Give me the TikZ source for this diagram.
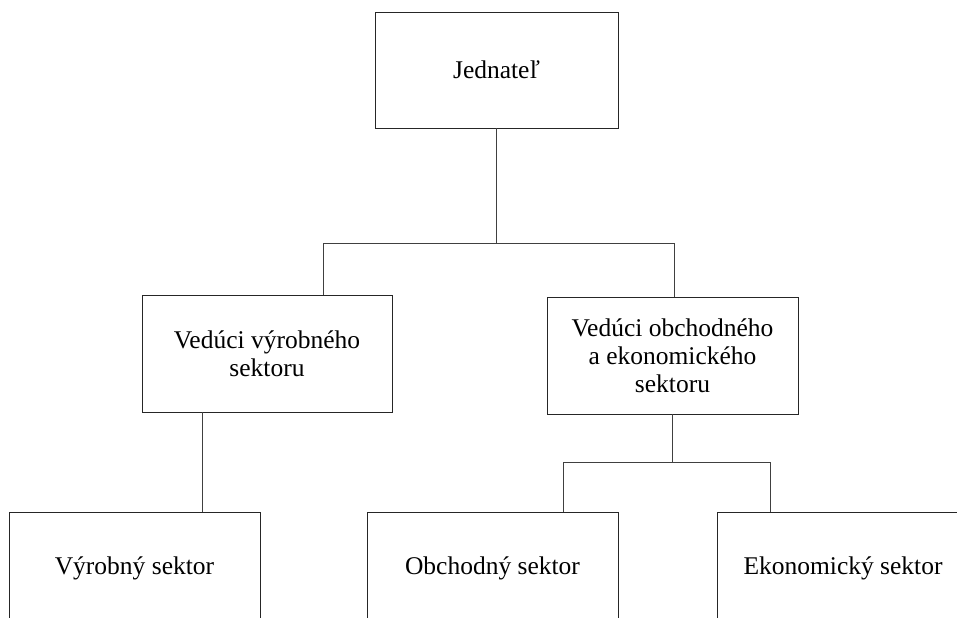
\documentclass[tikz,border=0pt]{standalone}
\usepackage{fontspec}
\setmainfont{Liberation Serif}
\begin{document}
\begin{tikzpicture}[x=1pt,y=-1pt,
  box/.style={draw=black!85,line width=0.8pt,rectangle,inner sep=0pt,align=center,
    font=\fontsize{25.5}{28}\selectfont},
  conn/.style={draw=black!75,line width=0.8pt}]
\useasboundingbox (0,0) rectangle (957,625);
\begin{scope}
\clip (0,0) rectangle (957,617);
\node[box,minimum width=243pt,minimum height=116pt] (top) at (496.5,70) {Jednateľ};
\node[box,minimum width=250pt,minimum height=117pt] (midL) at (267,353.5) {Vedúci výrobného\\sektoru};
\node[box,minimum width=251pt,minimum height=117pt] (midR) at (672.5,355.5) {Vedúci obchodného\\a ekonomického\\sektoru};
\node[box,minimum width=251pt,minimum height=112pt] (lowL) at (134.5,568) {Výrobný sektor};
\node[box,minimum width=251pt,minimum height=112pt] (lowM) at (492.5,568) {Obchodný sektor};
\node[box,minimum width=252pt,minimum height=112pt] (lowR) at (843,568) {Ekonomický sektor};
\end{scope}
\coordinate (busL) at (323,243);
\coordinate (busR) at (674,243);
\coordinate (dropL) at (202,0);
\coordinate (busA) at (563,462);
\coordinate (busB) at (770,462);
\draw[conn] (top.south) -- (top.south |- busL);
\draw[conn] (busL |- midL.north) -- (busL) -- (busR) -- (busR |- midR.north);
\draw[conn] (dropL |- midL.south) -- (dropL |- lowL.north);
\draw[conn] (midR.south) -- (midR.south |- busA);
\draw[conn] (busA |- lowM.north) -- (busA) -- (busB) -- (busB |- lowR.north);
\end{tikzpicture}
\end{document}
